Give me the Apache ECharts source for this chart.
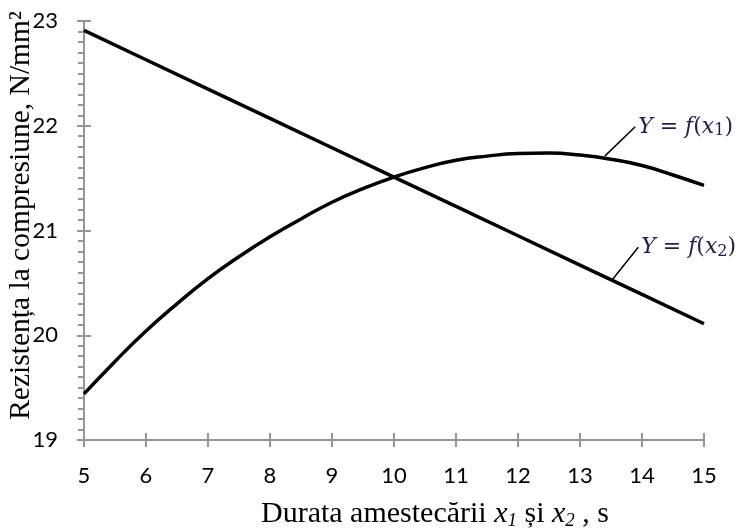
<!DOCTYPE html>
<html>
<head>
<meta charset="utf-8">
<script src="https://cdn.jsdelivr.net/npm/echarts@6/dist/echarts.min.js"></script>
<style>html,body{margin:0;padding:0;background:#fff}#c{width:741px;height:531px}</style>
</head>
<body>
<div id="c"></div>
<script>
// ---- data ----
const xValues1 = [5, 5.5, 6, 6.5, 7, 7.5, 8, 8.5, 9, 9.5, 10, 10.5, 11, 11.5, 12, 12.5, 13, 13.5, 14, 14.5, 15];
const fx1 = [19.44, 19.75, 20.04, 20.30, 20.54, 20.75, 20.94, 21.11, 21.27, 21.40, 21.51, 21.60, 21.67, 21.71, 21.735, 21.74, 21.72, 21.68, 21.62, 21.53, 21.43];
const xValues2 = [5, 6, 7, 8, 9, 10, 11, 12, 13, 14, 15];
const fx2 = [22.91, 22.63, 22.35, 22.07, 21.79, 21.51, 21.23, 20.95, 20.67, 20.39, 20.11];
const yTicks = [19, 20, 21, 22, 23];
const xTicks = [5, 15];
const xTitle = 'Durata amestecării {i|x}{s|1} și {i|x}{s|2} , s';
const yTitle = 'Rezistența la compresiune, N/mm²';
const label1 = ['Y', ' = ', 'f', '(', 'x', '1', ')'];
const label2 = ['Y', ' = ', 'f', '(', 'x', '2', ')'];
// leader lines (data coordinates): [attach point on curve, label point]
const leader1 = [[13.40, 21.71], [13.89, 21.99]];
const leader2 = [[13.52, 20.53], [13.94, 20.84]];

const axisGray = '#969696';
const chart = echarts.init(document.getElementById('c'), null, {renderer: 'canvas'});

function pairs(xs, ys) { return xs.map((x, i) => [x, ys[i]]); }

const annColor = '#1f1f48';
function labelRich() {
  return {
    i: {fontFamily: 'DejaVu Serif', fontStyle: 'italic', fontSize: 22, color: annColor, lineHeight: 28, verticalAlign: 'middle'},
    n: {fontFamily: 'DejaVu Serif', fontSize: 22, color: annColor, lineHeight: 28, verticalAlign: 'middle'},
    s: {fontFamily: 'DejaVu Serif', fontSize: 16, color: annColor, padding: [9, 0, 0, 0], lineHeight: 28, verticalAlign: 'middle'}
  };
}
function fmtLabel(t) {
  return '{i|' + t[0] + '}{n|' + t[1] + '}{i|' + t[2] + '}{n|' + t[3] + '}{i|' + t[4] + '}{s|' + t[5] + '}{n|' + t[6] + '}';
}

const option = {
  animation: false,
  backgroundColor: '#fff',
  grid: {left: 84, right: 37, top: 21, bottom: 91, containLabel: false, outerBoundsMode: 'none'},
  xAxis: [{
    type: 'value', min: xTicks[0], max: xTicks[1], interval: 1,
    axisLine: {show: true, lineStyle: {color: axisGray, width: 2}},
    axisTick: {show: true, inside: false, length: 7, lineStyle: {color: axisGray, width: 2}},
    axisLabel: {color: '#000', fontFamily: 'Lato', fontSize: 22, margin: 25},
    splitLine: {show: false},
    name: xTitle,
    nameLocation: 'middle',
    nameGap: 58,
    nameMoveOverlap: false,
    nameTextStyle: {
      fontFamily: 'Liberation Serif', fontSize: 30, color: '#000', padding: [0, 0, 0, 82],
      rich: {
        i: {fontFamily: 'Liberation Serif', fontStyle: 'italic', fontSize: 30},
        s: {fontFamily: 'Liberation Serif', fontStyle: 'italic', fontSize: 19, padding: [13, 0, 0, 0]}
      }
    }
  }, {
    type: 'value', min: xTicks[0], max: xTicks[1], interval: 1, position: 'bottom',
    axisLine: {show: false},
    axisTick: {show: true, inside: true, length: 7, lineStyle: {color: axisGray, width: 2}},
    axisLabel: {show: false},
    splitLine: {show: false}
  }],
  yAxis: [{
    type: 'value', min: yTicks[0], max: yTicks[yTicks.length - 1], interval: 1,
    axisLine: {show: true, lineStyle: {color: axisGray, width: 2}},
    axisTick: {show: true, inside: false, length: 7, lineStyle: {color: axisGray, width: 2}},
    minorTick: {show: true, splitNumber: 10, length: 6, lineStyle: {color: axisGray, width: 2}},
    axisLabel: {color: '#000', fontFamily: 'Lato', fontSize: 22, margin: 26},
    splitLine: {show: false},
    name: yTitle,
    nameLocation: 'middle',
    nameGap: 48,
    nameRotate: 90,
    nameMoveOverlap: false,
    nameTextStyle: {fontFamily: 'Liberation Serif', fontSize: 29.5, color: '#000', padding: [0, 0, 0, 30]}
  }, {
    type: 'value', min: yTicks[0], max: yTicks[yTicks.length - 1], interval: 1, position: 'left',
    axisLine: {show: false},
    axisTick: {show: true, inside: true, length: 7, lineStyle: {color: axisGray, width: 2}},
    axisLabel: {show: false},
    splitLine: {show: false}
  }],
  series: [{
    name: 'Y = f(x1)', type: 'line', xAxisIndex: 0, yAxisIndex: 0,
    data: pairs(xValues1, fx1), smooth: 0.5, symbol: 'none',
    lineStyle: {color: '#000', width: 3.5},
    markLine: {
      silent: true, symbol: ['none', 'none'], label: {show: false},
      lineStyle: {color: '#000', width: 1.5, type: 'solid'},
      data: [[{coord: leader1[0]}, {coord: leader1[1]}]]
    },
    markPoint: {
      silent: true, symbol: 'circle', symbolSize: 0,
      label: {show: true, position: 'right', distance: 3, formatter: fmtLabel(label1), rich: labelRich()},
      data: [{coord: leader1[1]}]
    }
  }, {
    name: 'Y = f(x2)', type: 'line', xAxisIndex: 0, yAxisIndex: 0,
    data: pairs(xValues2, fx2), symbol: 'none',
    lineStyle: {color: '#000', width: 3.5},
    markLine: {
      silent: true, symbol: ['none', 'none'], label: {show: false},
      lineStyle: {color: '#000', width: 1.5, type: 'solid'},
      data: [[{coord: leader2[0]}, {coord: leader2[1]}]]
    },
    markPoint: {
      silent: true, symbol: 'circle', symbolSize: 0,
      label: {show: true, position: 'right', distance: 3, formatter: fmtLabel(label2), rich: labelRich()},
      data: [{coord: leader2[1]}]
    }
  }]
};
chart.setOption(option);
</script>
</body>
</html>
